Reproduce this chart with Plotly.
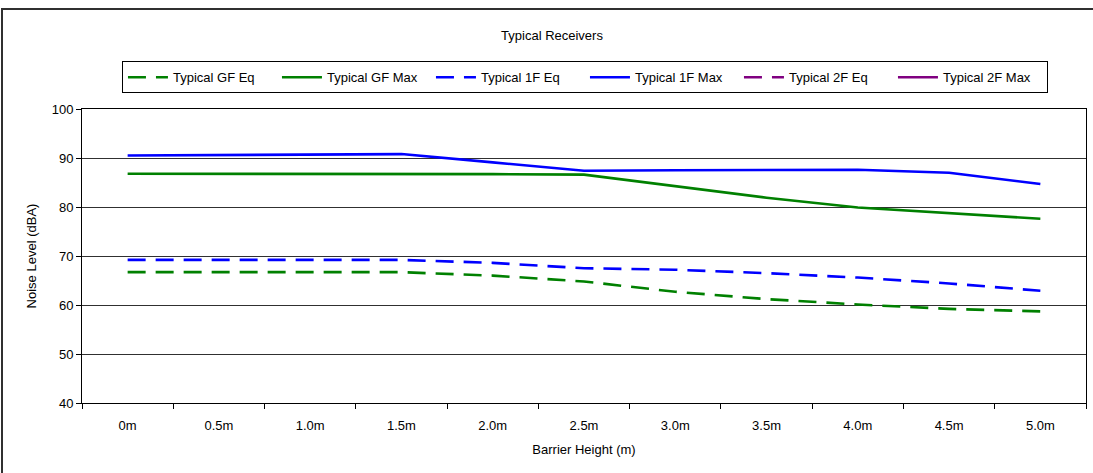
import plotly.graph_objects as go

# Barrier heights (category axis)
heights = ["0m", "0.5m", "1.0m", "1.5m", "2.0m", "2.5m", "3.0m", "3.5m", "4.0m", "4.5m", "5.0m"]

# Noise levels in dBA per receiver type
gf_eq = [66.7, 66.7, 66.7, 66.7, 66.0, 64.8, 62.7, 61.2, 60.1, 59.2, 58.7]
gf_max = [86.8, 86.8, 86.8, 86.8, 86.7, 86.6, 84.2, 81.9, 79.9, 78.7, 77.6]
f1_eq = [69.2, 69.2, 69.2, 69.2, 68.6, 67.5, 67.2, 66.5, 65.6, 64.4, 62.9]
f1_max = [90.5, 90.6, 90.7, 90.8, 89.1, 87.4, 87.5, 87.5, 87.6, 87.0, 84.7]
f2_eq = [None] * len(heights)
f2_max = [None] * len(heights)

GREEN = "#008000"
BLUE = "#0000FF"
PURPLE = "#800080"
DASH = "18px,10px"
FONT = "Liberation Sans, Arial, sans-serif"

series = [
    ("Typical GF Eq", gf_eq, GREEN, DASH),
    ("Typical GF Max", gf_max, GREEN, "solid"),
    ("Typical 1F Eq", f1_eq, BLUE, DASH),
    ("Typical 1F Max", f1_max, BLUE, "solid"),
    ("Typical 2F Eq", f2_eq, PURPLE, DASH),
    ("Typical 2F Max", f2_max, PURPLE, "solid"),
]

fig = go.Figure()
for name, vals, color, dash in series:
    fig.add_trace(go.Scatter(
        x=heights, y=vals, name=name, mode="lines",
        line=dict(color=color, width=2.6, dash=dash),
        showlegend=True,
    ))

fig.update_layout(
    width=1093, height=473,
    margin=dict(l=82, r=7, t=109, b=70),
    paper_bgcolor="white", plot_bgcolor="white",
    font=dict(family=FONT, size=13, color="black"),
    title=dict(text="Typical Receivers", x=552 / 1093, xref="container", xanchor="center",
               y=1 - 35 / 473, yref="container", yanchor="middle",
               font=dict(family=FONT, size=13, color="black")),
    legend=dict(orientation="h", x=0.0398, y=1.162, xanchor="left", yanchor="top",
                bordercolor="black", borderwidth=1, bgcolor="white",
                font=dict(family=FONT, size=13), itemwidth=40, tracegroupgap=0,
                entrywidth=99, entrywidthmode="pixels"),
    showlegend=True,
)

fig.update_xaxes(
    type="category", range=[-0.5, 10.5],
    tickson="boundaries", ticks="outside", ticklen=5, tickcolor="black",
    showline=True, linecolor="black", linewidth=1, mirror=True,
    showgrid=False, zeroline=False,
    ticklabelstandoff=10,
    title=dict(text="Barrier Height (m)", font=dict(family=FONT, size=13), standoff=13),
    tickfont=dict(family=FONT, size=13),
)
fig.update_yaxes(
    range=[40, 100], dtick=10, tick0=40,
    ticks="outside", ticklen=5, tickcolor="black",
    showline=True, linecolor="black", linewidth=1, mirror=True,
    showgrid=True, gridcolor="#303030", gridwidth=1, zeroline=False,
    title=dict(text="Noise Level (dBA)", font=dict(family=FONT, size=13), standoff=12),
    tickfont=dict(family=FONT, size=13),
)

# Outer chart frame
fig.add_shape(type="rect", xref="paper", yref="paper",
              x0=(2 - 82) / 1004, x1=1.03, y0=-0.3, y1=(403 - 9) / 294,
              line=dict(color="#303030", width=2), fillcolor="rgba(0,0,0,0)", layer="below")

fig.write_html("out.html")
